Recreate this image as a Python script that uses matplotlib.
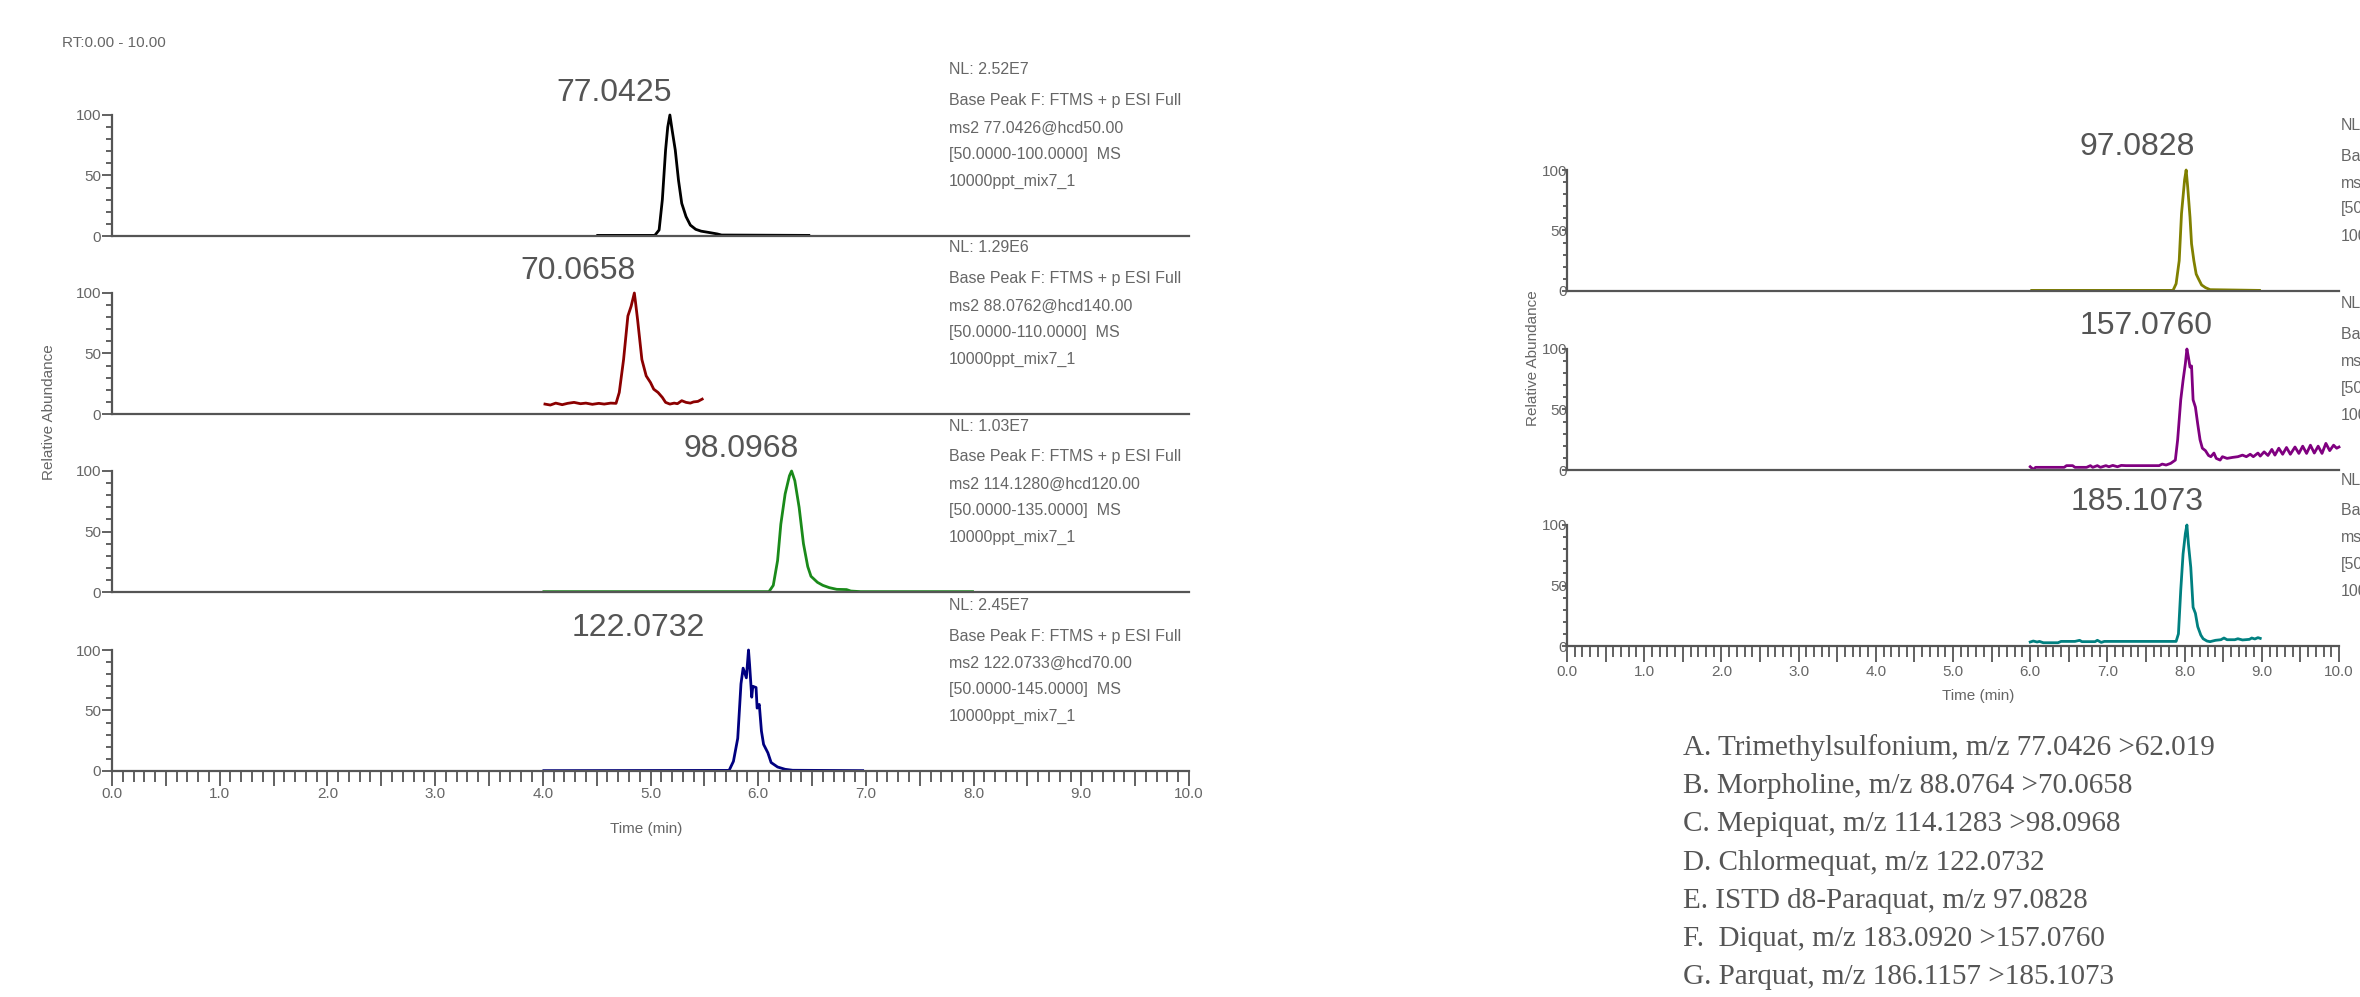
import matplotlib
matplotlib.use("Agg")
import matplotlib.pyplot as plt
from matplotlib.ticker import MultipleLocator, FuncFormatter

plt.rcParams['font.family'] = ['Liberation Sans', 'DejaVu Sans']

# ---- chromatogram traces (time in min, relative abundance) ----
t_a = [4.51, 5.04, 5.08, 5.11, 5.14, 5.16, 5.18, 5.20, 5.23, 5.26, 5.29, 5.33, 5.37,
       5.42, 5.47, 5.55, 5.62, 5.66, 6.47]
y_a = [0.5, 0.5, 5, 30, 71, 90, 100, 88, 71, 46, 27, 16, 9, 5.5, 4, 2.8, 1.7, 0.8, 0.5]

t_b = [4.02, 4.07, 4.12, 4.18, 4.23, 4.29, 4.35, 4.40, 4.46, 4.52, 4.57, 4.63, 4.68,
       4.71, 4.75, 4.79, 4.82, 4.85, 4.86, 4.88, 4.92, 4.96, 5.00, 5.03, 5.07, 5.11,
       5.14, 5.18, 5.22, 5.25, 5.29, 5.33, 5.37, 5.40, 5.44, 5.48]
y_b = [8.2, 7.4, 9, 7.7, 8.8, 9.6, 8.5, 9, 8, 8.8, 8.2, 9, 8.8, 17.8, 45, 81, 89, 100,
       93, 78, 45, 31.5, 26, 20.5, 17.8, 13.7, 9.6, 8.2, 9, 8.5, 11, 9.6, 9, 10, 10.4, 12.3]

t_c = [4.01, 6.10, 6.14, 6.18, 6.21, 6.25, 6.29, 6.31, 6.34, 6.38, 6.42, 6.46, 6.49,
       6.55, 6.60, 6.66, 6.73, 6.82, 6.86, 6.95, 7.99]
y_c = [0.3, 0.3, 5.5, 26, 56, 81, 96, 100, 92, 70, 40, 21, 13, 8, 5.5, 3.6, 2.2, 2,
       0.8, 0.3, 0.3]

t_d = [4.01, 5.73, 5.77, 5.81, 5.84, 5.86, 5.89, 5.91, 5.92, 5.94, 5.95, 5.98, 5.99,
       6.01, 6.03, 6.05, 6.09, 6.12, 6.18, 6.25, 6.32, 6.97]
y_d = [0.3, 0.5, 8, 27, 72, 85, 77, 100, 88, 61, 70, 69, 52, 55, 33, 22, 15, 7, 3.3,
       1.4, 0.6, 0.3]

t_e = [6.02, 7.85, 7.89, 7.93, 7.96, 8.00, 8.02, 8.04, 8.07, 8.09, 8.12, 8.15, 8.18,
       8.22, 8.27, 8.33, 8.97]
y_e = [0.5, 0.5, 6, 25, 64, 92, 100, 86, 61, 39, 25, 14, 10, 5, 2.8, 1.1, 0.5]

t_f = [6.00, 6.04, 6.07, 6.44, 6.47, 6.55, 6.58, 6.73, 6.78, 6.81, 6.87, 6.91, 6.98,
       7.02, 7.07, 7.13, 7.18, 7.24, 7.67, 7.71, 7.76, 7.82, 7.88, 7.91, 7.95, 7.98,
       8.01, 8.03, 8.05, 8.07, 8.09, 8.11, 8.14, 8.17, 8.20, 8.23, 8.27, 8.31, 8.34,
       8.38, 8.41, 8.46, 8.49, 8.55, 8.62, 8.69, 8.75, 8.80, 8.85, 8.89, 8.95, 8.98,
       9.03, 9.08, 9.13, 9.17, 9.22, 9.27, 9.32, 9.37, 9.43, 9.48, 9.53, 9.58, 9.63,
       9.68, 9.73, 9.78, 9.83, 9.88, 9.93, 9.97, 10.0]
y_f = [2.7, 0.5, 2.2, 2.2, 3.6, 3.6, 2.2, 2.2, 3.6, 2.2, 3.6, 2.2, 3.6, 2.7, 3.8, 2.7,
       3.8, 3.6, 3.6, 4.9, 4.1, 5.5, 8.2, 25, 58, 74, 88, 100, 93, 85, 86, 58, 52, 38,
       25, 18, 16, 12, 11, 14, 9.6, 8.2, 11, 9.6, 10.4, 11, 12.3, 11, 13, 11, 14, 11.5,
       15, 12, 17, 12.3, 18, 13, 18.6, 13, 19, 13.7, 19.7, 13.7, 20.5, 14, 19.7, 13.7,
       22, 16, 20.5, 18, 19]

t_g = [6.00, 6.04, 6.09, 6.12, 6.17, 6.36, 6.40, 6.58, 6.64, 6.67, 6.84, 6.87, 6.92,
       6.96, 7.89, 7.92, 7.95, 7.98, 8.01, 8.03, 8.05, 8.08, 8.11, 8.14, 8.17, 8.21,
       8.24, 8.29, 8.33, 8.40, 8.47, 8.51, 8.55, 8.65, 8.69, 8.75, 8.84, 8.87, 8.91,
       8.95, 8.98]
y_g = [3.3, 4.1, 3.3, 3.8, 2.7, 2.7, 3.8, 3.8, 4.7, 3.6, 3.6, 4.7, 3.0, 3.8, 3.8, 10,
       46, 76, 93, 100, 84, 65, 32, 27, 16, 9, 6, 4.1, 3.6, 4.7, 5.2, 6.6, 5.2, 5.2, 6,
       5, 5.5, 6.6, 5.8, 6.9, 6.3]

peak_labels_left = ["77.0425", "70.0658", "98.0968", "122.0732"]
peak_labels_right = ["97.0828", "157.0760", "185.1073"]
nl_left = ["NL: 2.52E7", "NL: 1.29E6", "NL: 1.03E7", "NL: 2.45E7"]
scan_left = ["ms2 77.0426@hcd50.00", "ms2 88.0762@hcd140.00",
             "ms2 114.1280@hcd120.00", "ms2 122.0733@hcd70.00"]
range_left = ["[50.0000-100.0000]  MS", "[50.0000-110.0000]  MS",
              "[50.0000-135.0000]  MS", "[50.0000-145.0000]  MS"]
legend_lines = [
    "A. Trimethylsulfonium, m/z 77.0426 >62.019",
    "B. Morpholine, m/z 88.0764 >70.0658",
    "C. Mepiquat, m/z 114.1283 >98.0968",
    "D. Chlormequat, m/z 122.0732",
    "E. ISTD d8-Paraquat, m/z 97.0828",
    "F.  Diquat, m/z 183.0920 >157.0760",
    "G. Parquat, m/z 186.1157 >185.1073",
]

traces_left = [(t_a, y_a, 'black'), (t_b, y_b, '#8b0000'),
               (t_c, y_c, '#1a8a1a'), (t_d, y_d, '#000080')]
traces_right = [(t_e, y_e, '#808000'), (t_f, y_f, '#800080'), (t_g, y_g, '#008080')]

W, H = 2360, 997
GRAY = '#666666'
AXC = '#555555'
fig = plt.figure(figsize=(W / 100, H / 100), dpi=100)


def fx(px):
    return px / W


def fy(py):
    return 1 - py / H


def tick_fmt(v, pos):
    if abs(v - round(v)) < 1e-6:
        return "%.1f" % v
    return ""


def make_panel(left, width, base, top, last, yt, xt):
    # yt = (major len, minor len, pad), xt = (major len, minor len, pad), in points
    ax = fig.add_axes([fx(left), fy(base), fx(width), (base - top) / H])
    ax.set_xlim(0, 10)
    ax.set_ylim(0, 100)
    for s in ['top', 'right']:
        ax.spines[s].set_visible(False)
    for s in ['left', 'bottom']:
        ax.spines[s].set_color(AXC)
        ax.spines[s].set_linewidth(1.6)
    ax.yaxis.set_major_locator(MultipleLocator(50))
    ax.yaxis.set_minor_locator(MultipleLocator(10))
    ax.tick_params(axis='y', which='major', length=yt[0], width=1.3, color=AXC,
                   labelsize=11, labelcolor=GRAY, pad=yt[2])
    ax.tick_params(axis='y', which='minor', length=yt[1], width=1.3, color=AXC)
    if last:
        ax.xaxis.set_major_locator(MultipleLocator(0.5))
        ax.xaxis.set_minor_locator(MultipleLocator(0.1))
        ax.xaxis.set_major_formatter(FuncFormatter(tick_fmt))
        ax.tick_params(axis='x', which='major', length=xt[0], width=1.3, color=AXC,
                       labelsize=11, labelcolor=GRAY, pad=xt[2])
        ax.tick_params(axis='x', which='minor', length=xt[1], width=1.3, color=AXC)
    else:
        ax.tick_params(axis='x', which='both', bottom=False, labelbottom=False)
    ax.patch.set_alpha(0)
    return ax


# ---- left block ----
left_bases = [236, 414, 592, 771]
for i, (t, y, c) in enumerate(traces_left):
    base = left_bases[i]
    ax = make_panel(112, 1077, base, base - 121, i == 3, (7.2, 4.3, 0.5), (10.8, 7.9, 0.5))
    ax.plot(t, y, color=c, lw=2.0, clip_on=False)
    fig.text(fx(614 + [0, -36, 127, 24][i]), fy(base - 143), peak_labels_left[i],
             fontsize=23, color=AXC, ha='center', va='center')
    x0 = fx(949)
    fig.text(x0, fy(base - 166), nl_left[i], fontsize=11.5, color=GRAY, va='center')
    fig.text(x0, fy(base - 135), "Base Peak F: FTMS + p ESI Full", fontsize=11.5,
             color=GRAY, va='center')
    fig.text(x0, fy(base - 108), scan_left[i], fontsize=11.5, color=GRAY, va='center')
    fig.text(x0, fy(base - 82), range_left[i], fontsize=11.5, color=GRAY, va='center')
    fig.text(x0, fy(base - 55), "10000ppt_mix7_1", fontsize=11.5, color=GRAY, va='center')

fig.text(fx(62), fy(43), "RT:0.00 - 10.00", fontsize=11, color=GRAY, va='center')
fig.text(fx(49), fy(412), "Relative Abundance", fontsize=11, color=GRAY,
         rotation=90, ha='center', va='center')
fig.text(fx(646), fy(829), "Time (min)", fontsize=11, color=GRAY,
         ha='center', va='center')

# ---- right block ----
right_bases = [291, 470, 646]
for i, (t, y, c) in enumerate(traces_right):
    base = right_bases[i]
    ax = make_panel(1567, 772, base, base - 121, i == 2, (3.6, 2.9, -3.6), (11.5, 7.9, 2))
    ax.plot(t, y, color=c, lw=2.0, clip_on=False)
    fig.text(fx([2137, 2146, 2137][i]), fy(base - 144), peak_labels_right[i],
             fontsize=23, color=AXC, ha='center', va='center')
    x0 = fx(2341)
    fig.text(x0, fy(base - 166), "NL:", fontsize=11.5, color=GRAY, va='center')
    fig.text(x0, fy(base - 135), "Base Peak F: FTMS + p ESI Full", fontsize=11.5,
             color=GRAY, va='center')
    fig.text(x0, fy(base - 108), "ms2", fontsize=11.5, color=GRAY, va='center')
    fig.text(x0, fy(base - 82), "[50.0000", fontsize=11.5, color=GRAY, va='center')
    fig.text(x0, fy(base - 55), "10000ppt_mix7_1", fontsize=11.5, color=GRAY, va='center')

fig.text(fx(1533), fy(358), "Relative Abundance", fontsize=11, color=GRAY,
         rotation=90, ha='center', va='center')
fig.text(fx(1978), fy(696), "Time (min)", fontsize=11, color=GRAY,
         ha='center', va='center')

# ---- compound list ----
for i, line in enumerate(legend_lines):
    fig.text(fx(1683), fy(748 + 38.2 * i), line, fontsize=21, color=AXC,
             family=['Liberation Serif', 'DejaVu Serif'], va='center')

fig.savefig("out.png", dpi=100, facecolor='white')
